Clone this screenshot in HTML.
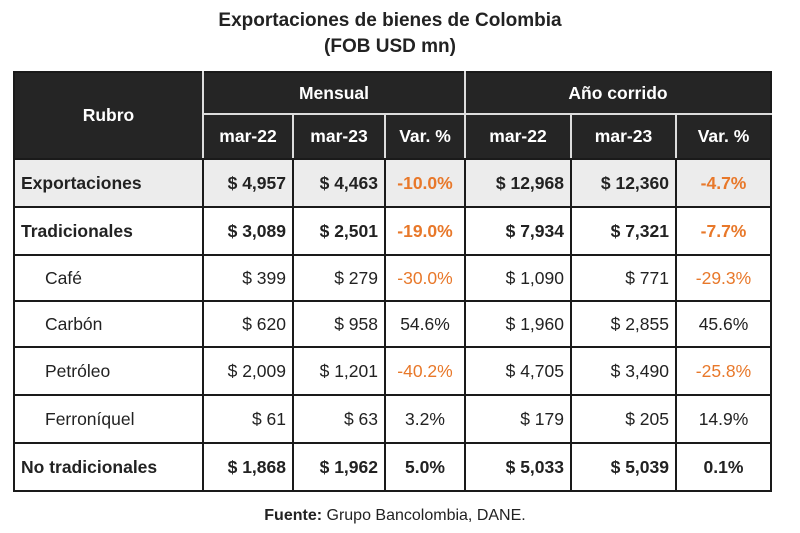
<!DOCTYPE html>
<html><head><meta charset="utf-8"><style>
body{margin:0;width:800px;height:533px;background:#fff;font-family:"Liberation Sans",sans-serif;color:#222;position:relative;overflow:hidden}
.t{position:absolute;left:0;width:780px;text-align:center;font-weight:bold;font-size:19px;color:#222}
table{position:absolute;left:13px;top:71px;border-collapse:collapse;table-layout:fixed}
td{border:2.5px solid #1a1a1a;font-size:17.5px;padding:0 6px;white-space:nowrap}
.h td{background:#252525;color:#fff;font-weight:bold;text-align:center;border-color:#ddd;border-bottom-color:#1a1a1a}
.h1 td{border-top-color:#1a1a1a;border-bottom-color:#ddd}
.h td.f{border-left-color:#1a1a1a;border-bottom-color:#1a1a1a}
.h td.l{border-right-color:#1a1a1a}
.r{text-align:right}.c{text-align:center}
.b td{font-weight:bold}
.g td{background:#ececec}
.o{color:#e8782a}
.ind{padding-left:30px}
</style></head><body>
<div class="t" style="top:10px">Exportaciones de bienes de Colombia</div>
<div class="t" style="top:36px">(FOB USD mn)</div>
<table>
<colgroup><col style="width:189px"><col style="width:90px"><col style="width:92px"><col style="width:80px"><col style="width:106px"><col style="width:105px"><col style="width:95px"></colgroup>
<tr class="h h1" style="height:42px"><td rowspan="2" class="f">Rubro</td><td colspan="3">Mensual</td><td colspan="3" class="l">Año corrido</td></tr>
<tr class="h" style="height:45px"><td>mar-22</td><td>mar-23</td><td>Var. %</td><td>mar-22</td><td>mar-23</td><td class="l">Var. %</td></tr>
<tr class="b g" style="height:48px"><td>Exportaciones</td><td class="r">$ 4,957</td><td class="r">$ 4,463</td><td class="c o">-10.0%</td><td class="r">$ 12,968</td><td class="r">$ 12,360</td><td class="c o">-4.7%</td></tr>
<tr class="b" style="height:48px"><td>Tradicionales</td><td class="r">$ 3,089</td><td class="r">$ 2,501</td><td class="c o">-19.0%</td><td class="r">$ 7,934</td><td class="r">$ 7,321</td><td class="c o">-7.7%</td></tr>
<tr style="height:46px"><td class="ind">Café</td><td class="r">$ 399</td><td class="r">$ 279</td><td class="c o">-30.0%</td><td class="r">$ 1,090</td><td class="r">$ 771</td><td class="c o">-29.3%</td></tr>
<tr style="height:46px"><td class="ind">Carbón</td><td class="r">$ 620</td><td class="r">$ 958</td><td class="c">54.6%</td><td class="r">$ 1,960</td><td class="r">$ 2,855</td><td class="c">45.6%</td></tr>
<tr style="height:48px"><td class="ind">Petróleo</td><td class="r">$ 2,009</td><td class="r">$ 1,201</td><td class="c o">-40.2%</td><td class="r">$ 4,705</td><td class="r">$ 3,490</td><td class="c o">-25.8%</td></tr>
<tr style="height:48px"><td class="ind">Ferroníquel</td><td class="r">$ 61</td><td class="r">$ 63</td><td class="c">3.2%</td><td class="r">$ 179</td><td class="r">$ 205</td><td class="c">14.9%</td></tr>
<tr class="b" style="height:48px"><td>No tradicionales</td><td class="r">$ 1,868</td><td class="r">$ 1,962</td><td class="c">5.0%</td><td class="r">$ 5,033</td><td class="r">$ 5,039</td><td class="c">0.1%</td></tr>
</table>
<div style="position:absolute;left:0;width:790px;top:507px;text-align:center;font-size:16px"><b>Fuente:</b> Grupo Bancolombia, DANE.</div>
</body></html>
